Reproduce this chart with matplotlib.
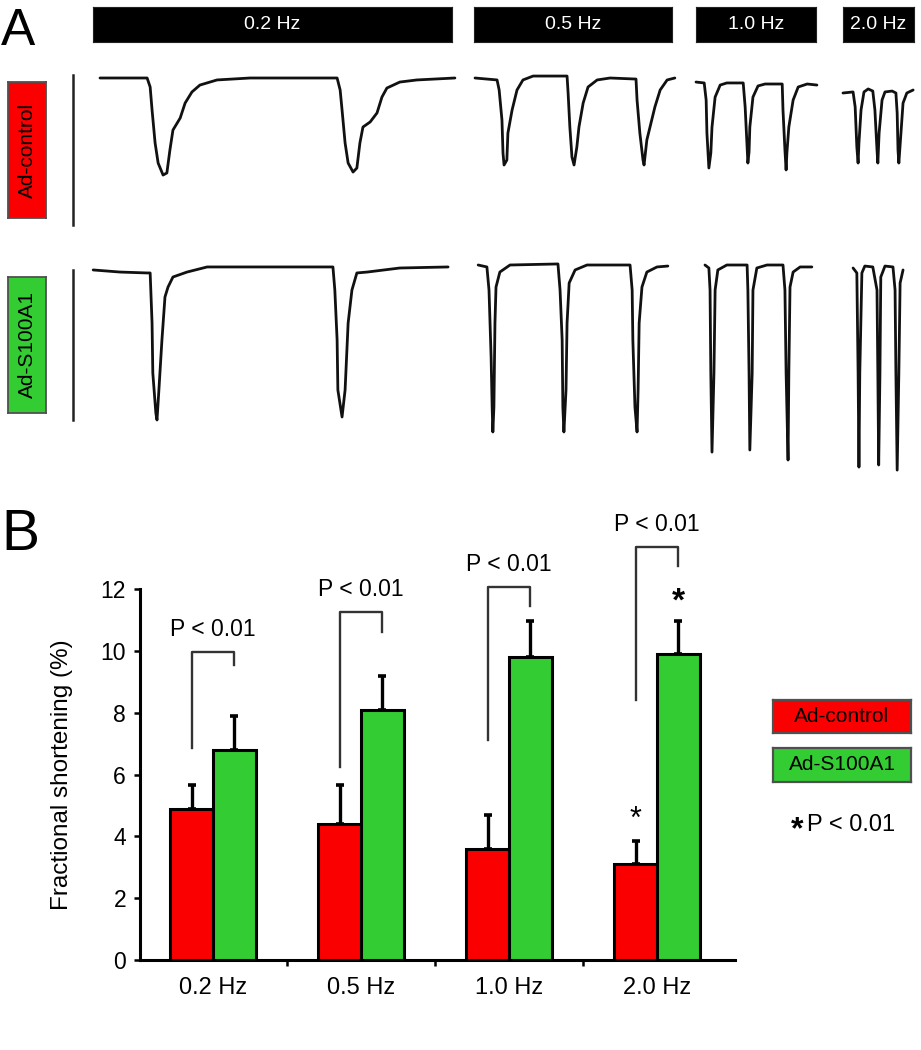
import matplotlib
matplotlib.use("Agg")
import matplotlib.pyplot as plt
import numpy as np

plt.rcParams['font.family'] = ['Liberation Sans', 'DejaVu Sans']

# ---------------- data ----------------
frequencies = ['0.2 Hz', '0.5 Hz', '1.0 Hz', '2.0 Hz']
groups = ['Ad-control', 'Ad-S100A1']

control_mean = [4.9, 4.4, 3.6, 3.1]
control_sem = [0.75, 1.25, 1.1, 0.75]
s100_mean = [6.8, 8.1, 9.8, 9.9]
s100_sem = [1.1, 1.1, 1.15, 1.05]

p_text = 'P < 0.01'
bracket_top = [9.95, 11.25, 12.05, 13.35]
bracket_left_bottom = [6.85, 6.25, 7.1, 8.4]
bracket_right_bottom = [9.55, 10.6, 11.45, 12.75]
p_label_y = [10.7, 12.0, 12.8, 14.1]

# panel A traces: time (s) and cell length change (a.u.)
ctrl_02_t = [0, 1.24, 1.32, 1.37, 1.45, 1.53, 1.66, 1.76, 1.84, 1.92, 2.11, 2.24, 2.42, 2.63, 3.08, 3.95,
             6.24, 6.32, 6.37, 6.45, 6.53, 6.66, 6.76, 6.84, 6.92, 7.11, 7.29, 7.42, 7.55, 7.89, 8.34, 9.34]
ctrl_02_v = [0, 0, -0.6, -2.13, -4.33, -5.67, -6.47, -6.33, -4.8, -3.47, -2.67, -1.67, -0.93, -0.47, -0.13, 0,
             0, -0.8, -2.13, -4.33, -5.67, -6.27, -6.0, -4.33, -3.27, -2.93, -2.33, -1.27, -0.67, -0.27, -0.13, 0]
ctrl_05_t = [0, 0.63, 0.69, 0.77, 0.80, 0.83, 0.91, 0.94, 1.06, 1.20, 1.37, 1.66, 2.63, 2.66, 2.71, 2.77, 2.83,
             2.91, 2.97, 3.09, 3.23, 3.49, 3.86, 4.60, 4.63, 4.71, 4.80, 4.83, 4.91, 5.00, 5.14, 5.29, 5.49, 5.71]
ctrl_05_v = [0, -0.13, -0.8, -2.8, -5.0, -5.8, -5.47, -3.67, -2.13, -0.8, -0.13, 0.13, 0.13, -1.0, -3.27, -5.27,
             -5.8, -4.6, -3.27, -1.67, -0.6, -0.13, 0, -0.07, -1.47, -3.67, -5.47, -5.8, -4.13, -3.27, -1.93,
             -0.8, -0.13, 0]
ctrl_10_t = [0, 0.21, 0.26, 0.28, 0.33, 0.38, 0.41, 0.49, 0.62, 0.79, 1.21, 1.26, 1.31, 1.33, 1.36, 1.38, 1.46,
             1.59, 1.77, 2.21, 2.23, 2.28, 2.31, 2.33, 2.38, 2.49, 2.62, 2.85, 3.10]
ctrl_10_v = [-0.27, -0.33, -1.47, -3.67, -6.0, -5.0, -3.27, -1.27, -0.47, -0.33, -0.33, -1.93, -4.6, -5.67,
             -4.93, -3.27, -1.27, -0.53, -0.4, -0.4, -2.13, -4.8, -6.13, -5.0, -3.27, -1.47, -0.6, -0.4, -0.47]
ctrl_20_t = [0, 0.24, 0.29, 0.33, 0.36, 0.38, 0.43, 0.50, 0.60, 0.71, 0.76, 0.81, 0.83, 0.86, 0.93, 1.00, 1.17,
             1.26, 1.29, 1.31, 1.33, 1.38, 1.43, 1.52, 1.67]
ctrl_20_v = [-1.0, -0.93, -1.93, -4.6, -5.67, -4.33, -2.13, -0.93, -0.73, -0.87, -2.13, -4.8, -5.67, -3.67,
             -1.47, -0.93, -0.87, -1.0, -2.33, -4.8, -5.67, -3.67, -1.67, -1.0, -0.8]

s100_02_t = [-0.18, 0.53, 1.24, 1.32, 1.37, 1.39, 1.47, 1.50, 1.55, 1.63, 1.71, 1.79, 1.92, 2.29, 2.82,
             6.13, 6.18, 6.24, 6.26, 6.37, 6.45, 6.53, 6.63, 6.76, 7.03, 7.89, 9.16]
s100_02_v = [-0.13, -0.27, -0.33, -0.33, -3.67, -7.0, -9.67, -10.13, -8.13, -4.8, -1.93, -1.27, -0.6, -0.27,
             0.07, 0.07, -1.47, -4.8, -8.13, -9.93, -8.13, -3.67, -1.47, -0.33, -0.27, 0, 0.07]
s100_05_t = [0.09, 0.34, 0.40, 0.46, 0.49, 0.51, 0.54, 0.57, 0.60, 0.71, 1.00, 2.37, 2.43, 2.49, 2.51, 2.54,
             2.60, 2.63, 2.69, 2.86, 3.20, 4.43, 4.49, 4.51, 4.57, 4.63, 4.66, 4.69, 4.77, 4.91, 5.20, 5.51]
s100_05_v = [0.2, 0.07, -1.47, -5.93, -9.27, -10.93, -9.27, -3.67, -1.27, -0.27, 0.2, 0.27, -1.47, -4.8,
             -9.27, -10.93, -8.13, -3.67, -1.0, -0.13, 0.2, 0.2, -1.47, -4.8, -9.27, -10.93, -8.13, -3.67,
             -1.27, -0.27, 0.07, 0.13]
s100_10_t = [0.23, 0.33, 0.36, 0.38, 0.41, 0.46, 0.49, 0.56, 0.79, 1.31, 1.33, 1.36, 1.38, 1.44, 1.46, 1.56,
             1.82, 2.23, 2.28, 2.31, 2.36, 2.38, 2.41, 2.49, 2.67, 2.97]
s100_10_v = [0.2, 0, -1.47, -7.0, -12.27, -7.0, -1.47, -0.13, 0.2, 0.2, -1.47, -7.0, -12.13, -7.0, -1.47, 0,
             0.2, 0.2, -1.47, -7.0, -12.8, -7.0, -1.27, -0.27, 0.07, 0.07]
s100_20_t = [0.24, 0.33, 0.36, 0.38, 0.40, 0.45, 0.52, 0.71, 0.81, 0.83, 0.85, 0.88, 0.90, 1.00, 1.19, 1.24,
             1.26, 1.29, 1.33, 1.36, 1.43]
s100_20_v = [0, -0.33, -7.0, -13.27, -7.0, -0.33, 0.13, 0.07, -1.47, -7.0, -13.13, -7.0, -0.6, 0.13, 0.07,
             -1.47, -7.0, -13.47, -7.0, -1.0, -0.13]

scale_bar_len = 10

# ---------------- layout helpers ----------------
W, H = 921, 1050
fig = plt.figure(figsize=(W / 100, H / 100), dpi=100)


def px_axes(l, t, r, b, **kw):
    return fig.add_axes([l / W, 1 - b / H, (r - l) / W, (b - t) / H], **kw)


def fx(x):
    return x / W


def fy(y):
    return 1 - y / H


RED = '#fb0000'
GREEN = '#33cc33'

# ---------------- panel A ----------------
fig.text(fx(1), fy(45), 'A', fontsize=37, va='baseline', ha='left')

header_px = [(93, 452), (474, 672), (696, 816), (843, 914)]
for (l, r), lab in zip(header_px, frequencies):
    ax = px_axes(l, 7, r, 42)
    ax.set_facecolor('black')
    ax.set_xticks([]); ax.set_yticks([])
    for s in ax.spines.values():
        s.set_color('#222222')
    ax.text(0.5, 0.5, lab, color='white', ha='center', va='center', fontsize=14, transform=ax.transAxes)

for (t, b, col, lab) in [(82, 218, RED, groups[0]), (277, 413, GREEN, groups[1])]:
    ax = px_axes(8, t, 46, b)
    ax.set_facecolor(col)
    ax.set_xticks([]); ax.set_yticks([])
    for s in ax.spines.values():
        s.set_color('#505050'); s.set_linewidth(1.3)
    ax.text(0.5, 0.5, lab, rotation=90, ha='center', va='center', fontsize=15, transform=ax.transAxes)

# segment x extents (px) and time limits
seg_px = [(65, 460), (470, 680), (690, 820), (840, 918)]
seg_xlim = [(-0.921, 9.474), (-0.143, 5.857), (-0.154, 3.179), (-0.071, 1.786)]
rows = [
    dict(top=60, bottom=240, ylim=(-10.8, 1.2),
         traces=[(ctrl_02_t, ctrl_02_v), (ctrl_05_t, ctrl_05_v), (ctrl_10_t, ctrl_10_v), (ctrl_20_t, ctrl_20_v)],
         bar=(0.2, 0.2 - scale_bar_len)),
    dict(top=250, bottom=480, ylim=(-14.13, 1.2),
         traces=[(s100_02_t, s100_02_v), (s100_05_t, s100_05_v), (s100_10_t, s100_10_v), (s100_20_t, s100_20_v)],
         bar=(-0.13, -0.13 - scale_bar_len)),
]
for row in rows:
    for k, ((l, r), xl, (tt, vv)) in enumerate(zip(seg_px, seg_xlim, row['traces'])):
        ax = px_axes(l, row['top'], r, row['bottom'])
        ax.plot(tt, vv, color='#111111', lw=2.0, solid_joinstyle='round', solid_capstyle='round')
        ax.set_xlim(*xl)
        ax.set_ylim(*row['ylim'])
        ax.axis('off')
        if k == 0:
            ax.plot([-0.71, -0.71], list(row['bar']), color='#222222', lw=1.8)

# ---------------- panel B ----------------
fig.text(fx(1), fy(550), 'B', fontsize=41, va='baseline', ha='left')

axB = px_axes(140, 589, 735, 960)
x = np.arange(len(frequencies))
bw = 0.29
ekw = dict(ecolor='black', elinewidth=2.4, capsize=3, capthick=2.6)
axB.bar(x - bw / 2, control_mean, bw, color=RED, edgecolor='black', linewidth=2.2,
        yerr=[np.zeros(len(x)), control_sem], error_kw=ekw, label=groups[0], zorder=3)
axB.bar(x + bw / 2, s100_mean, bw, color=GREEN, edgecolor='black', linewidth=2.2,
        yerr=[np.zeros(len(x)), s100_sem], error_kw=ekw, label=groups[1], zorder=3)

for i in range(len(x)):
    axB.plot([i - bw / 2, i - bw / 2, i + bw / 2, i + bw / 2],
             [bracket_left_bottom[i], bracket_top[i], bracket_top[i], bracket_right_bottom[i]],
             color='#333333', lw=1.7, clip_on=False)
    axB.text(i, p_label_y[i], p_text, ha='center', va='center', fontsize=16.5, clip_on=False)

# significance stars at 2.0 Hz
axB.text(3 - bw / 2, control_mean[3] + control_sem[3] + 0.42, '*', ha='center', va='baseline', fontsize=22)
axB.text(3 + bw / 2, s100_mean[3] + s100_sem[3] + 0.35, '*', ha='center', va='baseline', fontsize=24,
         fontweight='bold', clip_on=False)

axB.set_xlim(-0.493, 3.527)
axB.set_ylim(0, 12)
axB.set_yticks(np.arange(0, 13, 2))
axB.set_xticks(x)
axB.set_xticklabels(frequencies)
axB.set_xticks([0.5, 1.5, 2.5], minor=True)
axB.tick_params(axis='x', which='major', length=0, pad=12, labelsize=17)
axB.tick_params(axis='x', which='minor', length=4, width=1.8, direction='out')
axB.tick_params(axis='y', length=4, width=1.8, direction='out', pad=6, labelsize=16.5)
for s in ['top', 'right']:
    axB.spines[s].set_visible(False)
for s in ['left', 'bottom']:
    axB.spines[s].set_linewidth(2.2)
axB.set_ylabel('Fractional shortening (%)', fontsize=17.5, va='center')
axB.yaxis.set_label_coords(-0.131, 0.5)

# legend boxes
for (t, b, col, lab) in [(700, 733, RED, groups[0]), (748, 782, GREEN, groups[1])]:
    ax = px_axes(773, t, 911, b)
    ax.set_facecolor(col)
    ax.set_xticks([]); ax.set_yticks([])
    for s in ax.spines.values():
        s.set_color('#505050'); s.set_linewidth(1.6)
    ax.text(0.5, 0.5, lab, ha='center', va='center', fontsize=15, transform=ax.transAxes)

fig.text(fx(797), fy(838), '*', ha='center', va='baseline', fontsize=23, fontweight='bold')
fig.text(fx(807), fy(825), p_text, ha='left', va='center', fontsize=17)

fig.savefig('out.png', dpi=100, facecolor='white')
